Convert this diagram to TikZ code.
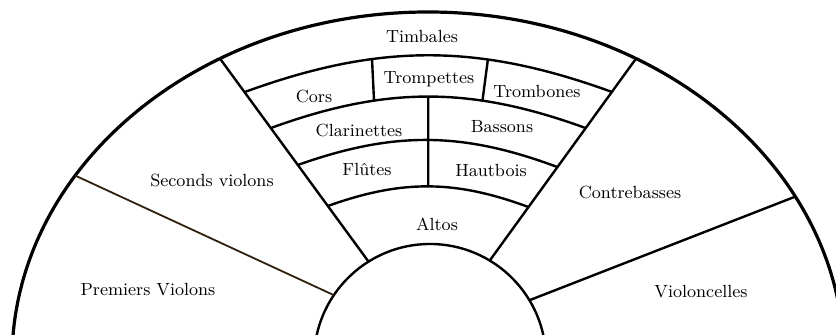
\documentclass[tikz,border=0pt]{standalone}
\usepackage{tikz}
\usetikzlibrary{calc}
\begin{document}
\begin{tikzpicture}[x=0.5pt,y=0.5pt,every node/.style={font=\fontsize{8.8}{10}\selectfont},rim/.style={line width=1.6pt},part/.style={line width=1.2pt},thin part/.style={line width=0.9pt,black!75!brown},row/.style={part,bend left=20}]
\clip (0,0) rectangle (836,335);
% rim and podium
\coordinate (o) at (428,-25); \coordinate (i) at (430,-25);
\draw[rim] (o) ellipse [x radius=416,y radius=348];
\draw[part] (i) circle [radius=116];
% dividing lines
\coordinate (pvo) at ($(o)+(148:416 and 348)$); \coordinate (lo) at ($(o)+(120:416 and 348)$);
\coordinate (ro) at ($(o)+(60:416 and 348)$); \coordinate (vco) at ($(o)+(28:416 and 348)$);
\coordinate (pvi) at ($(i)+(146:116)$); \coordinate (li) at ($(i)+(122:116)$);
\coordinate (ri) at ($(i)+(59:116)$); \coordinate (vci) at ($(i)+(31:116)$);
\draw[thin part](pvo)--(pvi);\draw[part](lo)--(li);\draw[part](ro)--(ri);\draw[part](vco)--(vci);
% rows of the wind section
\draw[row] ($(lo)!.165!(li)$) to coordinate[pos=.34] (v1t) coordinate[pos=.67] (v2t) ($(ro)!.165!(ri)$);
\draw[row] ($(lo)!.342!(li)$) to coordinate[pos=.32] (v1b) coordinate[pos=.5] (ct) coordinate[pos=.68] (v2b) ($(ro)!.344!(ri)$);
\draw[row] ($(lo)!.524!(li)$) to ($(ro)!.537!(ri)$);
\draw[row] ($(lo)!.726!(li)$) to coordinate[pos=.5] (cb) ($(ro)!.735!(ri)$);
\draw[part](v1t)--(v1b);\draw[part](v2t)--(v2b);\draw[part](ct)--(cb);
% labels
\node (timb) at (422,298) {Timbales};
\node (cors) at (314,238) {Cors};
\node (trp) at (429,256) {Trompettes};
\node (trb) at (537,243) {Trombones};
\node (cla) at (359,204) {Clarinettes};
\node (bas) at (502,208) {Bassons};
\node (flu) at (367,165) {Flûtes};
\node (hau) at (491,164) {Hautbois};
\node (alt) at (437,111) {Altos};
\node (vl2) at (212,155) {Seconds violons};
\node (vl1) at (148,45) {Premiers Violons};
\node (cbs) at (630,142) {Contrebasses};
\node (vc) at (701,43) {Violoncelles};
\end{tikzpicture}
\end{document}
